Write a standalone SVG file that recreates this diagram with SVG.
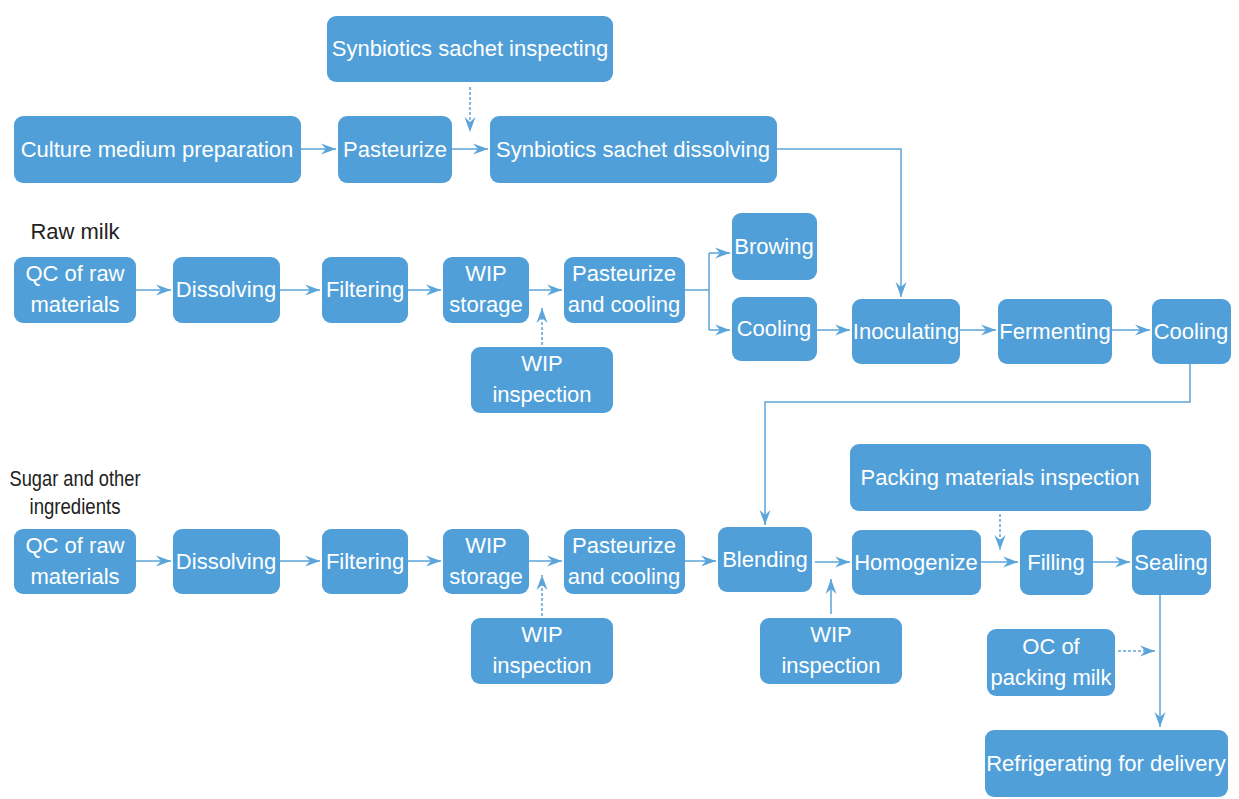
<svg xmlns="http://www.w3.org/2000/svg" width="1239" height="799" viewBox="0 0 1239 799">
<style>
.b{fill:#519fd8;}
.t{font-family:"Liberation Sans",Arial,sans-serif;font-size:22px;fill:#fff;text-anchor:middle;}
.l{font-family:"Liberation Sans",Arial,sans-serif;font-size:22px;fill:#222;text-anchor:middle;}
.c{fill:none;stroke:#5ba5da;stroke-width:1.5;}
.d{stroke-dasharray:3,2;}
</style>
<defs>
<marker id="a" markerUnits="userSpaceOnUse" markerWidth="16" markerHeight="12" refX="15" refY="6" orient="auto">
<path d="M0,0.5 L15,6 L0,11.5 L5,6 Z" fill="#5ba5da"/>
</marker>
</defs>
<rect width="1239" height="799" fill="#fff"/>
<g id="connectors">
<path class="c" d="M301,149 H336" marker-end="url(#a)"/>
<path class="c" d="M452,149 H488" marker-end="url(#a)"/>
<path class="c d" d="M470,87 V132" marker-end="url(#a)"/>
<path class="c" d="M777,149 H901 V297" marker-end="url(#a)"/>
<path class="c" d="M136,290 H171" marker-end="url(#a)"/>
<path class="c" d="M280,290 H320" marker-end="url(#a)"/>
<path class="c" d="M408,290 H441" marker-end="url(#a)"/>
<path class="c" d="M529,290 H562" marker-end="url(#a)"/>
<path class="c d" d="M542,345 V308" marker-end="url(#a)"/>
<path class="c" d="M685,290 H709"/>
<path class="c" d="M709,253 V330"/>
<path class="c" d="M709,253 H730" marker-end="url(#a)"/>
<path class="c" d="M709,330 H730" marker-end="url(#a)"/>
<path class="c" d="M817,330 H850" marker-end="url(#a)"/>
<path class="c" d="M960,330 H996" marker-end="url(#a)"/>
<path class="c" d="M1112,330 H1150" marker-end="url(#a)"/>
<path class="c" d="M1190,364 V402 H765 V525" marker-end="url(#a)"/>
<path class="c" d="M136,561 H171" marker-end="url(#a)"/>
<path class="c" d="M280,561 H320" marker-end="url(#a)"/>
<path class="c" d="M408,561 H441" marker-end="url(#a)"/>
<path class="c" d="M529,561 H562" marker-end="url(#a)"/>
<path class="c d" d="M542,616 V575" marker-end="url(#a)"/>
<path class="c" d="M685,561 H716" marker-end="url(#a)"/>
<path class="c" d="M815,562 H850" marker-end="url(#a)"/>
<path class="c" d="M831,614 V579" marker-end="url(#a)"/>
<path class="c" d="M981,562 H1018" marker-end="url(#a)"/>
<path class="c d" d="M1000,514 V550" marker-end="url(#a)"/>
<path class="c" d="M1093,562 H1130" marker-end="url(#a)"/>
<path class="c" d="M1160,595 V727" marker-end="url(#a)"/>
<path class="c d" d="M1118,651 H1155" marker-end="url(#a)"/>
</g>
<text class="l" x="75" y="239">Raw milk</text>
<text class="l" x="75" y="486" textLength="131" lengthAdjust="spacingAndGlyphs">Sugar and other</text>
<text class="l" x="75" y="514" textLength="91" lengthAdjust="spacingAndGlyphs">ingredients</text>
<g id="n1"><rect class="b" x="327" y="16" width="286" height="66" rx="9"/><text class="t" x="470" y="56">Synbiotics sachet inspecting</text></g>
<g id="n2"><rect class="b" x="14" y="116" width="287" height="67" rx="9"/><text class="t" x="157" y="157">Culture medium preparation</text></g>
<g id="n3"><rect class="b" x="338" y="116" width="114" height="67" rx="9"/><text class="t" x="395" y="157">Pasteurize</text></g>
<g id="n4"><rect class="b" x="490" y="116" width="287" height="67" rx="9"/><text class="t" x="633" y="157">Synbiotics sachet dissolving</text></g>
<g id="n5"><rect class="b" x="14" y="257" width="122" height="66" rx="9"/><text class="t" x="75" y="281">QC of raw</text><text class="t" x="75" y="312">materials</text></g>
<g id="n6"><rect class="b" x="173" y="257" width="107" height="66" rx="9"/><text class="t" x="226" y="297">Dissolving</text></g>
<g id="n7"><rect class="b" x="322" y="257" width="86" height="66" rx="9"/><text class="t" x="365" y="297">Filtering</text></g>
<g id="n8"><rect class="b" x="443" y="257" width="86" height="66" rx="9"/><text class="t" x="486" y="281">WIP</text><text class="t" x="486" y="312">storage</text></g>
<g id="n9"><rect class="b" x="564" y="257" width="121" height="66" rx="9"/><text class="t" x="624" y="281">Pasteurize</text><text class="t" x="624" y="312">and cooling</text></g>
<g id="n10"><rect class="b" x="471" y="347" width="142" height="66" rx="9"/><text class="t" x="542" y="371">WIP</text><text class="t" x="542" y="402">inspection</text></g>
<g id="n11"><rect class="b" x="732" y="213" width="85" height="67" rx="9"/><text class="t" x="774" y="254">Browing</text></g>
<g id="n12"><rect class="b" x="732" y="297" width="85" height="64" rx="9"/><text class="t" x="774" y="336">Cooling</text></g>
<g id="n13"><rect class="b" x="852" y="299" width="108" height="65" rx="9"/><text class="t" x="906" y="339">Inoculating</text></g>
<g id="n14"><rect class="b" x="998" y="299" width="114" height="65" rx="9"/><text class="t" x="1055" y="339">Fermenting</text></g>
<g id="n15"><rect class="b" x="1152" y="299" width="79" height="65" rx="9"/><text class="t" x="1191" y="339">Cooling</text></g>
<g id="n16"><rect class="b" x="14" y="529" width="122" height="65" rx="9"/><text class="t" x="75" y="553">QC of raw</text><text class="t" x="75" y="584">materials</text></g>
<g id="n17"><rect class="b" x="173" y="529" width="107" height="65" rx="9"/><text class="t" x="226" y="569">Dissolving</text></g>
<g id="n18"><rect class="b" x="322" y="529" width="86" height="65" rx="9"/><text class="t" x="365" y="569">Filtering</text></g>
<g id="n19"><rect class="b" x="443" y="529" width="86" height="65" rx="9"/><text class="t" x="486" y="553">WIP</text><text class="t" x="486" y="584">storage</text></g>
<g id="n20"><rect class="b" x="564" y="529" width="121" height="65" rx="9"/><text class="t" x="624" y="553">Pasteurize</text><text class="t" x="624" y="584">and cooling</text></g>
<g id="n21"><rect class="b" x="471" y="618" width="142" height="66" rx="9"/><text class="t" x="542" y="642">WIP</text><text class="t" x="542" y="673">inspection</text></g>
<g id="n22"><rect class="b" x="718" y="527" width="94" height="65" rx="9"/><text class="t" x="765" y="567">Blending</text></g>
<g id="n23"><rect class="b" x="852" y="530" width="129" height="65" rx="9"/><text class="t" x="916" y="570">Homogenize</text></g>
<g id="n24"><rect class="b" x="760" y="618" width="142" height="66" rx="9"/><text class="t" x="831" y="642">WIP</text><text class="t" x="831" y="673">inspection</text></g>
<g id="n25"><rect class="b" x="850" y="444" width="301" height="67" rx="9"/><text class="t" x="1000" y="485">Packing materials inspection</text></g>
<g id="n26"><rect class="b" x="1020" y="530" width="73" height="65" rx="9"/><text class="t" x="1056" y="570">Filling</text></g>
<g id="n27"><rect class="b" x="1132" y="530" width="79" height="65" rx="9"/><text class="t" x="1171" y="570">Sealing</text></g>
<g id="n28"><rect class="b" x="987" y="629" width="128" height="67" rx="9"/><text class="t" x="1051" y="654">OC of</text><text class="t" x="1051" y="685">packing milk</text></g>
<g id="n29"><rect class="b" x="985" y="730" width="243" height="67" rx="9"/><text class="t" x="1106" y="771">Refrigerating for delivery</text></g>
</svg>
